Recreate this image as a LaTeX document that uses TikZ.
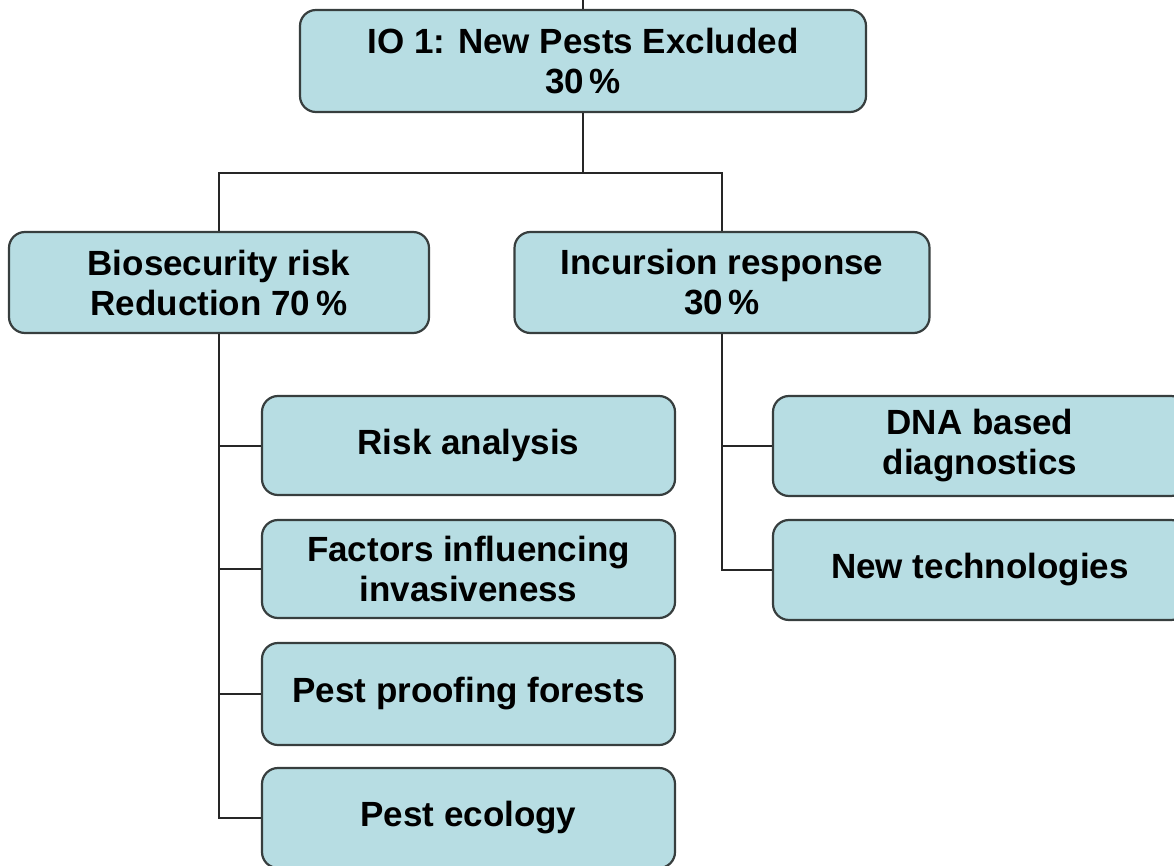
\documentclass[tikz,border=0pt]{standalone}
\usepackage{fontspec}
\setmainfont{Liberation Sans}
\begin{document}
\begin{tikzpicture}[x=1pt,y=-1pt,
  box/.style={draw=boxline,line width=2.2pt,fill=boxfill,rounded corners=16pt,
    align=center,inner sep=0pt,font=\fontsize{35}{40}\selectfont\bfseries,text=black},
  link/.style={draw=black!85,line width=2pt}]
\definecolor{boxfill}{RGB}{183,221,227}
\definecolor{boxline}{RGB}{55,62,62}
\useasboundingbox (0,0) rectangle (1174,866);
\clip (0,0) rectangle (1174,866);
\node[box,minimum width=566pt,minimum height=102pt] (top) at (583,61) {IO 1: New Pests Excluded\\30\,\%};
\node[box,minimum width=420pt,minimum height=101pt] (bio) at (219,282.5) {Biosecurity risk\\Reduction 70\,\%};
\node[box,minimum width=415pt,minimum height=101pt] (inc) at (722,282.5) {Incursion response\\30\,\%};
\node[box,minimum width=413pt,minimum height=99pt] (risk) at (468.5,445.5) {Risk analysis};
\node[box,minimum width=413pt,minimum height=98pt] (fact) at (468.5,569) {Factors influencing\\invasiveness};
\node[box,minimum width=413pt,minimum height=102pt] (proof) at (468.5,694) {Pest proofing forests};
\node[box,minimum width=413pt,minimum height=100pt] (eco) at (468.5,818) {Pest ecology};
\node[box,minimum width=414pt,minimum height=100pt] (dna) at (980,446) {DNA based\\diagnostics};
\node[box,minimum width=414pt,minimum height=100pt] (newt) at (980,570) {New technologies};
\coordinate (above) at (583,0);
\coordinate (j) at (583,173);
\draw[link] (above) -- (top.north);
\draw[link] (top.south) -- (j);
\draw[link] (bio.north) |- (j) -| (inc.north);
\draw[link] (bio.south) |- (eco.west);
\draw[link] (bio.south |- risk.west) -- (risk.west);
\draw[link] (bio.south |- fact.west) -- (fact.west);
\draw[link] (bio.south |- proof.west) -- (proof.west);
\draw[link] (inc.south) |- (newt.west);
\draw[link] (inc.south |- dna.west) -- (dna.west);
\end{tikzpicture}
\end{document}
